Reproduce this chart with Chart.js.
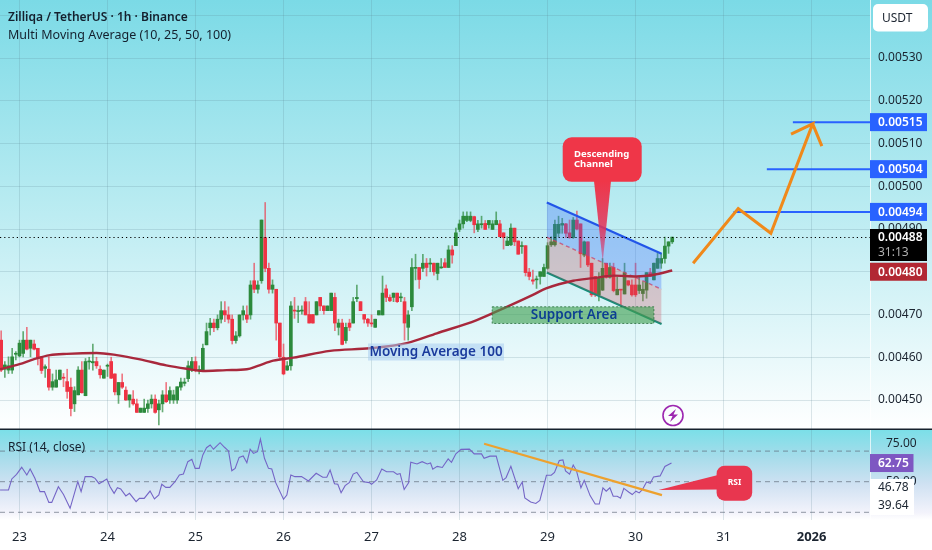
<!DOCTYPE html>
<html><head><meta charset="utf-8">
<script src="https://cdn.jsdelivr.net/npm/chart.js@4"></script>
<style>
html,body{margin:0;padding:0;background:#fff;overflow:hidden}
canvas{position:absolute;left:0;display:block}
#main{top:0}#rsi{top:430px}
</style></head><body>
<canvas id="main" width="932" height="430"></canvas>
<canvas id="rsi" width="932" height="120"></canvas>
<script>
// Prices are in units of 0.00001 USDT. Time is in hours from the "23" day line.
const firstHour=-5;
const opens=[464.0,457.2,457.0,457.0,460.7,460.3,460.9,464.0,462.1,463.1,462.1,460.1,457.4,457.2,453.0,453.0,454.8,455.3,454.3,453.0,449.1,451.2,457.0,451.0,
458.9,458.7,459.0,457.2,455.1,457.9,459.0,456.1,451.2,454.1,452.3,450.0,450.2,449.1,447.1,447.1,448.0,449.1,450.2,447.7,449.1,451.2,450.0,450.0,
450.0,453.0,453.9,455.0,457.0,459.0,456.9,457.0,462.9,466.9,468.0,466.9,468.9,470.9,469.9,468.9,463.9,465.0,469.9,469.9,469.9,477.9,475.9,477.9,
488.0,480.8,475.9,475.9,468.0,460.0,457.0,458.0,471.0,470.7,470.8,473.0,470.0,470.0,469.9,474.0,472.0,470.9,470.9,474.0,467.0,468.0,463.9,468.0,
468.0,473.7,473.0,470.0,468.9,468.0,467.0,469.9,469.9,476.0,474.0,474.0,475.0,473.9,473.0,467.0,471.8,480.8,481.0,480.8,482.0,481.8,482.0,479.6,
480.9,482.1,481.0,485.1,486.1,489.9,491.2,492.0,492.0,492.9,489.9,491.0,491.3,491.0,489.9,491.0,491.2,489.1,486.1,486.3,490.2,487.2,485.9,486.1,
479.9,478.1,478.1,478.9,478.9,480.8,486.3,486.3,489.0,490.9,491.2,489.1,488.0,492.1,491.2,483.9,487.0,482.0,478.9,474.6,475.7,482.0,478.7,481.0,
474.6,475.9,474.8,477.9,476.9,476.9,475.6,474.9,475.7,479.8,478.1,480.8,482.0,483.1,486.0,487.0];
const closes=[457.0,458.2,458.0,460.1,460.9,463.3,464.0,461.9,464.0,461.9,459.7,456.9,457.8,453.0,454.3,454.7,457.0,455.1,452.0,448.0,452.2,457.0,451.7,459.0,
459.1,459.0,458.0,455.9,457.0,458.1,455.1,451.9,454.1,453.0,450.0,451.2,449.1,447.1,448.1,448.1,449.1,450.2,447.1,449.1,451.2,449.6,452.2,451.2,
453.1,454.2,454.2,458.0,459.0,456.9,457.0,462.1,466.0,468.0,466.9,468.9,470.9,469.9,468.9,463.9,465.0,469.9,470.9,468.9,476.9,475.9,476.9,492.1,
480.8,475.9,476.9,468.0,460.1,456.1,458.0,472.0,470.8,470.9,471.0,469.9,468.0,468.0,473.0,472.0,470.9,472.0,475.0,468.0,468.0,463.0,467.0,467.0,
473.0,474.0,470.9,468.9,468.0,467.8,468.9,470.9,475.0,474.0,473.2,475.0,473.0,474.0,468.0,469.9,481.0,481.0,478.2,482.0,481.0,482.0,480.0,482.0,
481.0,481.0,485.1,483.9,489.1,491.2,493.0,493.0,493.0,491.0,491.2,491.2,489.9,492.0,491.2,492.0,488.2,488.0,487.2,490.2,487.0,484.1,486.1,479.8,
478.9,477.8,478.2,480.0,481.0,486.1,487.0,491.1,491.1,491.3,489.0,488.0,492.1,490.0,484.2,487.0,481.6,474.6,474.6,478.7,480.8,478.7,481.0,475.6,
475.9,475.7,479.8,476.9,474.6,474.6,476.9,475.9,479.8,478.9,482.0,483.1,483.1,486.0,487.0,488.1];
const highs=[466.2,459.0,460.1,462.1,461.3,464.0,466.0,467.0,464.0,464.0,462.1,460.1,458.2,460.1,456.1,457.0,457.0,456.2,457.2,455.1,453.1,457.8,459.0,459.7,
460.0,463.1,460.0,458.0,457.0,458.4,460.0,456.1,454.1,456.1,453.1,451.2,452.2,450.2,448.1,450.2,450.0,451.2,451.2,450.0,452.2,454.1,453.1,452.3,
453.1,455.1,455.1,459.1,460.0,460.1,458.0,463.1,468.0,469.1,468.9,469.9,473.0,473.0,471.8,469.9,466.0,469.9,472.0,472.0,477.9,482.0,477.9,492.1,
496.2,482.0,478.1,475.9,468.0,463.1,459.0,473.0,474.0,472.0,472.0,474.0,473.0,470.0,473.0,474.0,472.0,472.0,475.0,475.0,468.9,468.9,468.0,468.9,
474.0,476.9,473.0,470.0,469.1,469.9,468.9,470.9,479.0,476.9,474.6,475.0,475.0,475.0,474.0,470.9,483.1,484.1,481.0,484.1,483.1,483.1,482.0,482.0,
483.1,483.1,486.1,486.1,490.2,492.1,494.0,494.0,494.0,493.0,492.0,493.0,492.0,492.0,492.0,494.0,492.0,489.1,488.2,491.2,490.2,487.2,487.0,486.1,
480.8,480.4,479.0,480.0,481.8,486.8,488.2,492.1,493.0,492.5,491.3,492.1,492.7,494.2,491.2,487.2,487.0,482.0,478.9,479.8,483.1,482.0,482.0,482.0,
478.7,475.9,482.0,477.9,478.1,482.0,478.9,477.7,479.8,480.8,482.0,484.3,484.3,488.1,487.0,488.1];
const lows=[456.6,455.3,456.2,456.2,459.4,460.1,460.1,461.7,460.1,461.7,458.2,456.2,455.3,452.3,452.3,453.0,454.7,453.1,450.4,446.3,447.3,451.2,451.6,451.0,
457.2,457.0,457.4,455.1,455.1,455.5,455.0,451.2,449.2,452.7,449.9,448.3,448.8,447.1,447.1,447.1,447.1,448.1,446.9,444.2,447.2,449.4,449.2,449.2,
449.2,452.3,453.3,454.3,456.6,456.6,456.1,456.9,462.9,465.2,466.0,466.4,468.0,468.3,468.0,463.1,463.3,464.7,468.7,468.1,468.9,475.1,475.0,477.3,
480.0,475.0,475.0,464.0,459.7,455.9,456.9,457.0,469.1,468.1,470.1,469.9,468.0,468.0,469.9,470.9,470.1,470.9,470.9,466.2,465.2,462.9,463.3,466.2,
468.0,473.0,470.9,468.0,467.2,467.2,467.0,469.9,469.9,473.0,473.0,473.0,472.8,473.0,464.0,464.0,470.9,478.1,476.1,480.0,479.0,480.0,479.2,478.1,
480.8,481.0,481.0,482.0,486.1,489.4,490.2,491.7,491.7,489.1,489.4,490.2,489.9,490.2,489.9,491.0,488.2,485.3,486.1,486.1,486.1,484.1,484.3,479.0,
478.1,477.1,476.1,477.1,478.9,480.6,485.9,486.0,488.2,489.0,488.0,487.8,487.8,489.8,481.0,483.5,481.2,474.2,474.2,473.2,475.6,478.5,478.5,475.3,
474.6,472.2,474.8,476.7,474.3,474.2,474.9,473.2,473.8,478.9,478.1,480.8,480.8,482.0,484.3,486.6];
const maHours=[-5.3,0,3.8,8.3,12.9,21,26.5,32.9,40,45.6,50,56.5,62,65,69.2,74.7,84.7,95.6,105.6,113.8,124.7,132.9,140,143.6,151,156.5,162,168.3,173,178];
const maValues=[457.2,458.4,459.5,460.5,460.8,461.0,460.5,459.5,458.1,457.3,456.8,457.0,457.2,458.0,459.2,459.9,461.5,462.1,463.3,465.6,468.7,471.8,474.6,476.1,477.9,478.5,479.1,478.9,479.3,480.3];
const rsiHours=[-5.3,-3,-2.1,-0.8,0.6,2,2.9,4.2,5.6,6.8,8,8.8,10.6,12,13.8,15.9,16.8,17.9,19.7,20.6,21.7,23.8,24.7,25.8,26.7,27.6,29,30,31.8,32.7,34,35.6,36.8,38,38.8,39.9,41,42.4,43.6,44.7,45.9,47,47.9,49,50,51,52,52.9,54.7,55.9,57,57.9,58.8,59.9,61,62,62.9,63.8,64.9,65.7,66.8,67.9,68.8,69.9,72,72.9,74,75.1,76.9,78.8,80.9,82.7,83.8,84.7,85.9,86.8,87.7,88.8,90,91,92,93.8,95.4,96,97.4,98.8,100.1,102,103,103.8,104.9,106.1,106.7,108.4,109.8,111.2,112.1,112.7,113.9,115.3,116.9,117.8,119,120.4,122.7,124,126,126.7,128.3,130,131.8,132.7,134,136,137.1,137.8,139.4,140.8,141.9,143.7,145,145.9,147.2,148.2,148.9,150,151,151.9,153.1,154,155.6,157,158.1,159.1,160,161,161.9,163,163.9,164.8,166.2,167.1,168.1,169,169.9,171,172,172.9,174.7,176,177.8];
const rsiValues=[44.6,44.6,51.8,54.8,59.4,54.4,58.3,52.2,43.5,43.5,36.5,36.5,46.7,41.7,32.6,50.0,43.5,53.3,53.3,52.2,48.7,51.8,46.7,42.4,46.1,45.2,40.7,42.4,37.0,39.1,39.1,43.9,38.7,41.3,48.3,46.3,46.3,50.0,54.4,55.0,63.1,64.6,58.7,58.7,67.5,72.2,74.0,71.2,75.5,72.5,70.1,57.2,58.7,65.9,66.8,62.4,71.2,68.5,69.6,77.9,65.3,58.7,58.3,49.2,38.5,41.3,54.4,53.3,53.3,50.5,55.5,52.9,52.9,57.6,48.7,48.3,42.8,47.4,49.6,55.0,56.1,50.0,49.4,48.3,51.1,58.3,56.5,56.5,54.8,55.3,44.9,49.3,62.7,61.6,63.1,61.6,62.2,58.2,60.0,59.3,64.9,62.7,68.2,71.1,71.3,68.2,68.2,65.3,66.7,66.7,50.9,52.7,60.0,45.4,49.8,39.4,36.7,35.8,37.8,54.2,54.2,56.0,63.8,64.2,57.1,54.9,60.9,57.1,46.0,50.9,40.9,35.4,35.4,46.0,43.8,46.0,40.5,40.5,39.2,45.6,43.1,41.6,43.8,42.7,44.9,49.8,48.9,53.1,53.8,60.0,62.2];
const dayHours=[0,24,48,72,96,120,144,168,192,216];
const dayLabels=['23','24','25','26','27','28','29','30','31','2026'];
const priceTicks=[450,460,470,480,490,500,510,520,530,540];
const rsiTicks=[75,50];
const rsiLevels=[70,50,30];
const lastPrice=488, maLast=480, targets=[494,504,515];
const targetStart=[194.7,203.8,210.9];
const zigzagHours=[183.7,196,204.9,216.3,210.4,216.3,218.8];
const zigzagValues=[482,494.8,489,514.6,512.2,514.6,509.4];
const channelHours=[143.8,175.1];
const channelTop=[496.2,484.2], channelMid=[488.1,475.9], channelBottom=[479.8,467.8];
const supportHours=[128.9,173], supportValues=[471.8,467.9];
const rsiTrendHours=[126.7,175.2], rsiTrendValues=[74.8,41.2];
const titleText='Zilliqa / TetherUS · 1h · Binance';
const studyText='Multi Moving Average (10, 25, 50, 100)';

const F='"Noto Sans",sans-serif';
const GREEN='#2c8a3c',RED='#ee3344',GRID='rgba(90,130,145,.2)';
const xMin=-19.5/3.667,xMax=(870-19.5)/3.667;
const hours=opens.map((_,i)=>firstHour+i);
const up=opens.map((o,i)=>closes[i]>=o);
const pts=(xs,ys)=>xs.map((x,i)=>({x,y:ys[i]}));
const flat=(v,a=xMin,b=xMax)=>[{x:a,y:v},{x:b,y:v}];
const noPad=s=>{s.paddingTop=s.paddingBottom=s.paddingLeft=s.paddingRight=0};
const fixed=(w)=>function(s){s.width=w;noPad(s)};
const line=(data,color,width,extra={})=>Object.assign({type:'line',data,borderColor:color,borderWidth:width,pointRadius:0,fill:false,tension:0,order:1},extra);

function xAxis(showLabels,h){return{type:'linear',min:xMin,max:xMax,offset:false,
  grid:{color:GRID,drawTicks:false,lineWidth:1,offset:false},border:{display:false},
  afterBuildTicks:a=>{a.ticks=dayHours.map(v=>({value:v}))},
  afterFit:s=>{s.height=h;noPad(s)},
  ticks:{display:showLabels,autoSkip:false,maxRotation:0,padding:9,color:'#1b2430',font:c=>({family:F,size:13,weight:c.tick&&c.tick.value===216?'bold':'normal'}),
    callback:v=>dayLabels[dayHours.indexOf(v)]}}}

function rr(c,x,y,w,h,r){c.beginPath();c.roundRect(x,y,w,h,r)}
function badge(c,y0,y1,bg,txt,col){c.fillStyle=bg;c.fillRect(870,y0,57,y1-y0);c.fillStyle=col||'#fff';c.font='600 12px '+F;c.textAlign='left';c.textBaseline='middle';c.fillText(txt,878,(y0+y1)/2+.5)}

const mainBg={id:'mainBg',beforeDraw(ch){const c=ch.ctx,g=c.createLinearGradient(0,0,0,430);g.addColorStop(0,'#7bdae6');g.addColorStop(.5,'#bcecf2');g.addColorStop(1,'#ffffff');c.fillStyle=g;c.fillRect(0,0,932,430)}};
const mainOverlay={id:'mainOverlay',afterDraw(ch){
  const c=ch.ctx,X=ch.scales.x,Y=ch.scales.y,px=v=>X.getPixelForValue(v),py=v=>Y.getPixelForValue(v);
  c.save();
  // separator
  c.strokeStyle='rgba(255,255,255,.75)';c.lineWidth=1;c.beginPath();c.moveTo(870.5,0);c.lineTo(870.5,430);c.stroke();
  // support area
  const sx=px(supportHours[0]),sw=px(supportHours[1])-sx,sy=py(supportValues[0]),sh=py(supportValues[1])-sy;
  c.fillStyle='rgba(64,160,80,.62)';c.fillRect(sx,sy,sw,sh);
  c.strokeStyle='rgba(40,110,60,.8)';c.setLineDash([2,2]);c.strokeRect(sx,sy,sw,sh);c.setLineDash([]);
  c.fillStyle='#0d3f92';c.font='600 13.5px '+F;c.textAlign='center';c.textBaseline='middle';
  c.fillText('Support Area',sx+sw/2+1,sy+sh/2+.5);
  // MA label
  c.fillStyle='rgba(170,205,240,.55)';c.fillRect(368,343.5,136,17);
  c.fillStyle='#1a3a9c';c.font='600 13.5px '+F;c.fillText('Moving Average 100',436,352);
  // callout
  c.fillStyle='#ef3648';rr(c,562.7,137.3,79,44.5,9);c.fill();
  const g=c.createLinearGradient(0,181,0,262);g.addColorStop(0,'#ef3648');g.addColorStop(.6,'rgba(225,50,90,.85)');g.addColorStop(1,'rgba(210,50,110,.45)');
  c.fillStyle=g;c.beginPath();c.moveTo(594,181);c.lineTo(611,181);c.lineTo(602.7,262);c.closePath();c.fill();
  c.fillStyle='#fff';c.font='bold 9.5px '+F;c.textAlign='left';c.fillText('Descending',574,154);c.fillText('Channel',574,164);
  // title
  c.fillStyle='#14202e';c.font='600 12px '+F;c.fillText(titleText,8,18);
  c.font='12.5px '+F;c.fillText(studyText,8,35);
  // price badges
  targets.forEach(t=>{const y=py(t);badge(c,y-9,y+9,'#2962ff',(t/1e5).toFixed(5))});
  c.fillStyle='#000';c.fillRect(870,229,57,32);
  c.fillStyle='#fff';c.font='600 12px '+F;c.textAlign='left';c.fillText((lastPrice/1e5).toFixed(5),878,237.5);
  c.fillStyle='#b0b0b0';c.font='12px '+F;c.fillText('31:13',878,252.5);
  const my=py(maLast);badge(c,my-9,my+9,'#b22833',(maLast/1e5).toFixed(5));
  // USDT
  c.fillStyle='#fff';rr(c,873,4,55,27.5,5);c.fill();
  c.fillStyle='#1b2430';c.font='12px '+F;c.textAlign='left';c.fillText('USDT',882,18.5);
  // flash icon
  c.strokeStyle='#9c27b0';c.lineWidth=1.6;c.beginPath();c.arc(673,415.5,10,0,7);c.stroke();
  c.fillStyle='#9c27b0';c.beginPath();c.moveTo(676,409);c.lineTo(668,416);c.lineTo(672.5,416);c.lineTo(670,422);c.lineTo(678,414.5);c.lineTo(673.5,414.5);c.closePath();c.fill();
  // pane divider
  c.fillStyle='#17222e';c.fillRect(0,428.5,932,1.5);
  c.restore();
}};
const rsiBg={id:'rsiBg',beforeDraw(ch){const c=ch.ctx,g=c.createLinearGradient(0,0,0,90);
  g.addColorStop(0,'#7bdfe8');g.addColorStop(.28,'#a3dcea');g.addColorStop(.6,'#cfe1f2');g.addColorStop(.92,'#f3f3fb');g.addColorStop(1,'#ffffff');
  c.fillStyle='#fff';c.fillRect(0,0,932,120);c.fillStyle=g;c.fillRect(0,0,932,90)}};
const rsiOverlay={id:'rsiOverlay',afterDraw(ch){
  const c=ch.ctx,Y=ch.scales.y,py=v=>Y.getPixelForValue(v);
  c.save();
  c.strokeStyle='rgba(255,255,255,.7)';c.lineWidth=1;c.beginPath();c.moveTo(870.5,0);c.lineTo(870.5,90);c.stroke();
  c.fillStyle='#14202e';c.font='12px '+F;c.textAlign='left';c.textBaseline='middle';c.fillText('RSI (14, close)',8,17.5);
  // white box with the two hidden-study readings
  c.fillStyle='#fff';c.fillRect(870,49,44,36);
  c.fillStyle='#1b2430';c.font='12px '+F;c.textAlign='left';c.fillText('46.78',878,58);c.fillText('39.64',878,76);
  // last value
  const y=py(rsiValues[rsiValues.length-1]);
  c.fillStyle='#7e57c2';c.fillRect(870,y-9,43.5,18);
  c.fillStyle='#fff';c.font='600 12px '+F;c.fillText('62.75',878,y+.5);
  // callout
  c.fillStyle='#e8364f';c.beginPath();c.moveTo(658.6,60);c.lineTo(718,45);c.lineTo(718,59.5);c.closePath();c.fill();
  rr(c,716.6,35.7,35.6,35,8);c.fill();
  c.fillStyle='#fff';c.font='bold 8.5px '+F;c.textAlign='center';c.fillText('RSI',734.5,53);
  c.restore();
}};

new Chart(document.getElementById('main'),{type:'bar',plugins:[mainBg,mainOverlay],
 data:{datasets:[
  line(flat(lastPrice),'#000',1.1,{borderDash:[1.2,3],order:0}),
  line(pts(zigzagHours,zigzagValues),'#f0891a',3,{order:-1,borderJoinStyle:'miter',borderCapStyle:'butt'}),
  line(flat(targets[0],targetStart[0]),'#2962ff',2,{order:0}),
  line(flat(targets[1],targetStart[1]),'#2962ff',2,{order:0}),
  line(flat(targets[2],targetStart[2]),'#2962ff',2,{order:0}),
  line(pts(maHours,maValues),'#a8283c',2.4,{cubicInterpolationMode:'monotone',order:0}),
  line(pts(channelHours,channelTop),'#2255e8',2.2,{order:1,fill:{target:'+1'},backgroundColor:'rgba(60,110,250,.32)'}),
  line(pts(channelHours,channelMid),'rgba(220,60,90,.75)',1.4,{order:1,borderDash:[4,3],fill:{target:'+1'},backgroundColor:'rgba(205,70,85,.27)'}),
  line(pts(channelHours,channelBottom),'#0f8f7a',2.2,{order:1}),
  {type:'bar',order:2,data:hours.map((h,i)=>({x:h,y:[opens[i],closes[i]]})),backgroundColor:up.map(u=>u?GREEN:RED),barThickness:3,grouped:false,borderSkipped:false,minBarLength:1},
  {type:'bar',order:3,data:hours.map((h,i)=>({x:h,y:[lows[i],highs[i]]})),backgroundColor:up.map(u=>u?'rgba(44,138,60,.7)':'rgba(238,51,68,.65)'),barThickness:1,grouped:false}
 ]},
 options:{responsive:false,animation:false,devicePixelRatio:1,layout:{padding:0},
  plugins:{legend:{display:false},tooltip:{enabled:false}},
  scales:{x:xAxis(false,0),
   y:{position:'right',min:530-372/4.275,max:530+58/4.275,grid:{color:GRID,drawTicks:false},border:{display:false},
    afterBuildTicks:a=>{a.ticks=priceTicks.map(v=>({value:v}))},afterFit:fixed(62),
    ticks:{padding:8,color:'#1b2430',font:{family:F,size:12},callback:v=>(v/1e5).toFixed(5)}}}}
});

new Chart(document.getElementById('rsi'),{type:'line',plugins:[rsiBg,rsiOverlay],
 data:{datasets:[
  line(pts(rsiTrendHours,rsiTrendValues),'#eda12e',2.2,{order:0}),
  line(pts(rsiHours,rsiValues),'#7465c6',1.1,{order:1}),
  ...rsiLevels.map(v=>line(flat(v),'rgba(90,100,115,.65)',1,{borderDash:[5,4],order:2}))
 ]},
 options:{responsive:false,animation:false,devicePixelRatio:1,layout:{padding:0},
  plugins:{legend:{display:false},tooltip:{enabled:false}},
  scales:{x:xAxis(true,30),
   y:{position:'right',min:50-38.3/1.53,max:50+51.7/1.53,grid:{display:false},border:{display:false},
    afterBuildTicks:a=>{a.ticks=rsiTicks.map(v=>({value:v}))},afterFit:fixed(62),
    ticks:{padding:8,color:'#1b2430',font:{family:F,size:12},callback:v=>v.toFixed(2)}}}}
});
</script></body></html>
